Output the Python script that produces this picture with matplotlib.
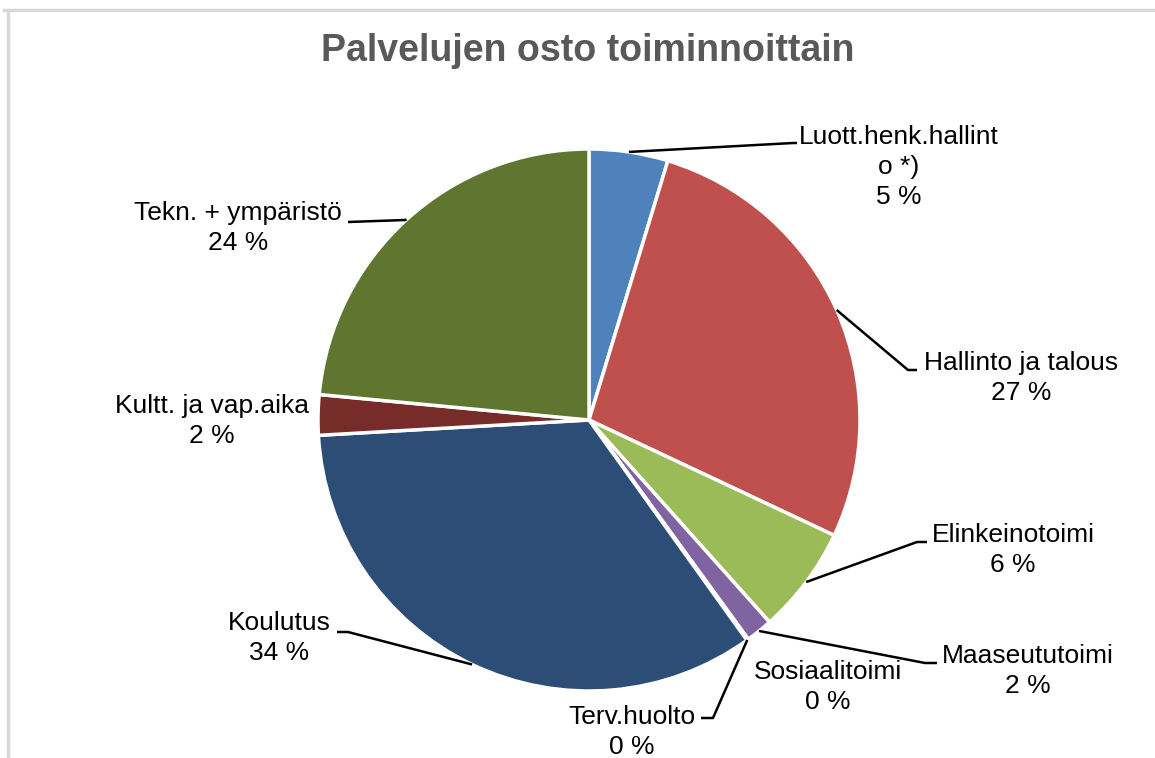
import numpy as np
import matplotlib
matplotlib.use('Agg')
import matplotlib.pyplot as plt

# data (percent of purchased services)
names = ['Luott.henk.hallint\no *)', 'Hallinto ja talous', 'Elinkeinotoimi',
         'Maaseututoimi', 'Sosiaalitoimi', 'Terv.huolto', 'Koulutus',
         'Kultt. ja vap.aika', 'Tekn. + ympäristö']
values = [4.7, 27.3, 6.4, 1.6, 0.05, 0.05, 34.0, 2.4, 23.5]
colors = ['#4F81BD', '#C0504D', '#9BBB59', '#8064A2', '#4BACC6', '#F79646',
          '#2C4D75', '#772C2A', '#5F7530']

W, H = 1155, 758
cx, cy, R = 589, 420, 271

# label layout in pixel coords (x, y from top): text centre, elbow, end of leader
text_pos = [(899, 167), (1021, 378), (1013, 550), (1028, 671), (828, 687),
            (632, 732), (279, 638), (212, 421), (238, 228)]
elbows = [(793, 143), (908, 370), (917, 542), (925, 663), None,
          (713, 718), (348, 632), None, (405, 220)]
ends = [(797, 143), (917, 370), (927, 542), (937, 663), None,
        (701, 718), (337, 632), None, (348, 222)]

plt.rcParams['font.family'] = ['Liberation Sans', 'DejaVu Sans']

fig = plt.figure(figsize=(W / 100, H / 100), dpi=100)
ax = fig.add_axes([0, 0, 1, 1])

def Y(y):
    return H - y

ax.pie(values, colors=colors, startangle=90, counterclock=False,
       center=(cx, Y(cy)), radius=R,
       wedgeprops=dict(edgecolor='white', linewidth=2.5))
ax.set_xlim(0, W)
ax.set_ylim(0, H)
ax.set_aspect('equal')
ax.axis('off')

total = sum(values)
cum = 0
for i, v in enumerate(values):
    mid = 90 - 360 * (cum + v / 2) / total
    cum += v
    label = '%s\n%d %%' % (names[i], int(round(v)))
    tx, ty = text_pos[i]
    ax.text(tx, Y(ty), label, ha='center', va='center', fontsize=19,
            color='black', linespacing=1.32)
    if elbows[i] is not None:
        sx = cx + R * np.cos(np.radians(mid))
        sy = Y(cy) + R * np.sin(np.radians(mid))
        ex, ey = elbows[i]
        fx, fy = ends[i]
        ax.plot([sx, ex, fx], [sy, Y(ey), Y(fy)], color='black', lw=1.8,
                solid_capstyle='butt')

fig.text(588 / W, 1 - 51 / H, 'Palvelujen osto toiminnoittain', ha='center',
         va='center', fontsize=27, fontweight='bold', color='#595959')

# chart frame (top and left edges visible in the crop)
ax.plot([4, W], [Y(10), Y(10)], color='#D9D9D9', lw=2.5)
ax.plot([8, 8], [Y(10), 0], color='#D9D9D9', lw=2.5)

fig.savefig('out.png', dpi=100, facecolor='white')
